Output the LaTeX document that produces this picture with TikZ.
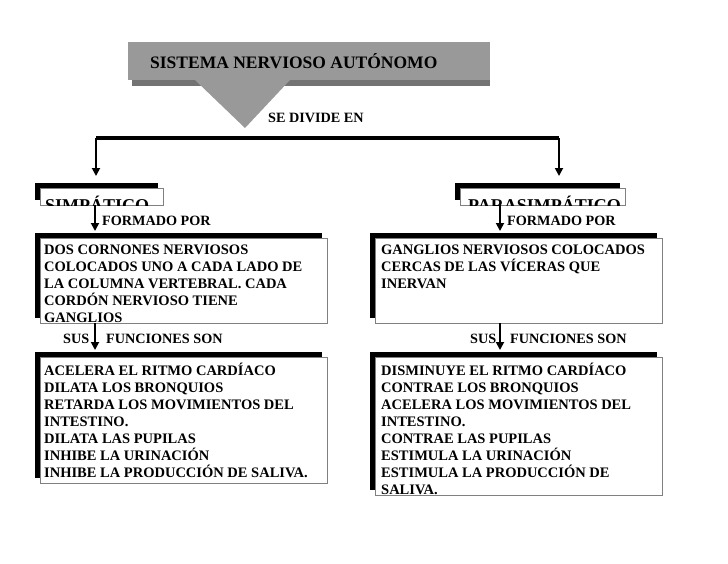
\documentclass[tikz,border=0pt]{standalone}
\usepackage{fontspec}
\setmainfont{Liberation Serif}
\usetikzlibrary{arrows.meta,positioning,calc}

\begin{document}
\begin{tikzpicture}[x=1pt,y=-1pt,
    shadowbox/.style={fill=black, inner sep=0pt, anchor=north west},
    whitebox/.style={draw=black!50, fill=white, inner sep=0pt, anchor=north west},
    boxtext/.style={anchor=north west, align=left, inner sep=0pt, font=\bfseries\fontsize{14.5}{17}\selectfont},
    label/.style={inner sep=0pt, font=\bfseries\fontsize{14.2}{15}\selectfont},
    arrow/.style={-{Triangle[length=8pt,width=8pt]}, line width=1.8pt}
]
    \useasboundingbox (0,0) rectangle (728,563);

    % Title banner
    \fill[black!55] (132,50) rectangle (490,86);
    \fill[black!40] (128,42) rectangle (490,80);
    \fill[black!40] (195,80) -- (290,80) -- (245,128) -- cycle;
    \node[label, anchor=west, font=\bfseries\fontsize{17.5}{19}\selectfont] (title) at (150,61) {SISTEMA NERVIOSO AUTÓNOMO};
    \node[label, anchor=west] (divide) at (268,118) {SE DIVIDE EN};

    % Branches
    \coordinate (bl) at (96,138);
    \coordinate (br) at (559,138);
    \coordinate (tl) at (96,176);
    \coordinate (tr) at (559,176);
    \draw[line width=3.5pt] (bl) -- (br);
    \draw[arrow] (bl) -- (tl);
    \draw[arrow] (br) -- (tr);

    % Sympathetic
    \node[shadowbox, minimum width=123pt, minimum height=17pt] at (35,183) {};
    \node[whitebox, minimum width=123pt, minimum height=17pt] (simp) at (40,188) {};
    \begin{scope}
      \clip (40,188) rectangle (163,205);
      \node[label, anchor=north west, font=\bfseries\fontsize{18}{20}\selectfont] at (45,196) {SIMPÁTICO};
    \end{scope}

    \node[shadowbox, minimum width=165pt, minimum height=17pt] at (455,183) {};
    \node[whitebox, minimum width=165pt, minimum height=17pt] (para) at (460,188) {};
    \begin{scope}
      \clip (460,188) rectangle (625,205);
      \node[label, anchor=north west, font=\bfseries\fontsize{18}{20}\selectfont] at (468,196) {PARASIMPÁTICO};
    \end{scope}

    % Formado por
    \node[shadowbox, minimum width=287pt, minimum height=85pt] at (35,233) {};
    \node[whitebox, minimum width=287pt, minimum height=85pt] (formL) at (40,238) {};
    \node[shadowbox, minimum width=287pt, minimum height=85pt] at (370,233) {};
    \node[whitebox, minimum width=287pt, minimum height=85pt] (formR) at (375,238) {};
    \draw[arrow] (95,205) -- (95,231);
    \draw[arrow] (500,205) -- (500,231);
    \node[label, anchor=west] at (102,221) {FORMADO POR};
    \node[label, anchor=west] at (507,221) {FORMADO POR};
    \begin{scope}
      \clip (40,238) rectangle (327,323);
      \node[boxtext] at (44,245) {DOS CORNONES NERVIOSOS\\COLOCADOS UNO A CADA LADO DE\\LA COLUMNA VERTEBRAL. CADA\\CORDÓN NERVIOSO TIENE\\GANGLIOS};
    \end{scope}
    \node[boxtext] at (381,245) {GANGLIOS NERVIOSOS COLOCADOS\\CERCAS DE LAS VÍCERAS QUE\\INERVAN};

    % Funciones
    \draw[arrow] (95,323) -- (95,350);
    \draw[arrow] (500,323) -- (500,350);
    \node[label, anchor=west] at (63,339) {SUS};
    \node[label, anchor=west] at (106,339) {FUNCIONES SON};
    \node[label, anchor=west] at (470,339) {SUS};
    \node[label, anchor=west] at (510,339) {FUNCIONES SON};

    \node[shadowbox, minimum width=287pt, minimum height=126pt] at (35,352) {};
    \node[whitebox, minimum width=287pt, minimum height=126pt] (funL) at (40,357) {};
    \node[shadowbox, minimum width=287pt, minimum height=138pt] at (370,352) {};
    \node[whitebox, minimum width=287pt, minimum height=138pt] (funR) at (375,357) {};
    \node[boxtext] at (44,363) {ACELERA EL RITMO CARDÍACO\\DILATA LOS BRONQUIOS\\RETARDA LOS MOVIMIENTOS DEL\\INTESTINO.\\DILATA LAS PUPILAS\\INHIBE LA URINACIÓN\\INHIBE LA PRODUCCIÓN DE SALIVA.};
    \node[boxtext] at (381,363) {DISMINUYE EL RITMO CARDÍACO\\CONTRAE LOS BRONQUIOS\\ACELERA LOS MOVIMIENTOS DEL\\INTESTINO.\\CONTRAE LAS PUPILAS\\ESTIMULA LA URINACIÓN\\ESTIMULA LA PRODUCCIÓN DE\\SALIVA.};
\end{tikzpicture}
\end{document}
